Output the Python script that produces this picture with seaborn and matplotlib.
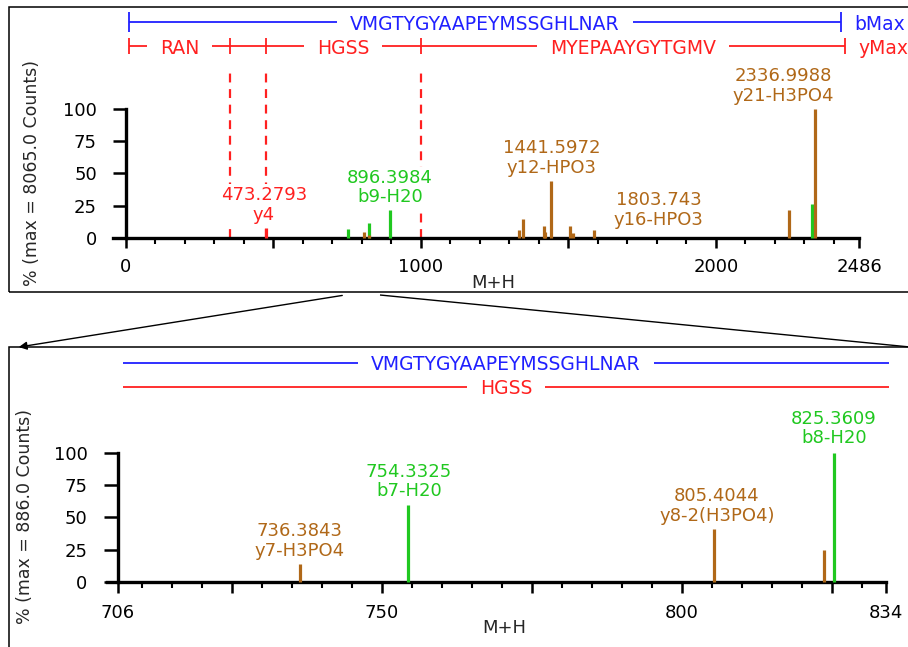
import matplotlib
matplotlib.use("Agg")
import matplotlib.pyplot as plt
import numpy as np
import pandas as pd
import seaborn as sns
from matplotlib.patches import Rectangle, FancyArrowPatch
from matplotlib.lines import Line2D
from matplotlib.ticker import FixedLocator, FixedFormatter

# ---------------- data ----------------
peptide = "VMGTYGYAAPEYMSSGHLNAR"

top_mz = [473.28, 754.33, 805.40, 823.70, 825.36, 896.40, 1333.0, 1347.0, 1417.0,
          1422.0, 1441.60, 1504.0, 1515.0, 1587.0, 2248.0, 2326.0, 2337.00]
top_pct = [8.0, 6.6, 4.4, 2.7, 11.5, 22.0, 6.0, 14.5, 9.5,
           5.0, 44.0, 9.0, 4.0, 6.5, 22.0, 26.0, 100.0]
top_type = ["y", "b-loss", "y-loss", "y-loss", "b-loss", "b-loss", "y-loss", "y-loss", "y-loss",
            "y-loss", "y-loss", "y-loss", "y-loss", "y-loss", "y-loss", "b-loss", "y-loss"]

top_lbl_mass = ["473.2793", "896.3984", "1441.5972", "1803.743", "2336.9988"]
top_lbl_ion = ["y4", "b9-H20", "y12-HPO3", "y16-HPO3", "y21-H3PO4"]
top_lbl_type = ["y", "b-loss", "y-loss", "y-loss", "y-loss"]

y_cleavages = [10.0, 352.5, 473.28, 1000.0, 2437.0]
y_fragments = ["RAN", "", "HGSS", "MYEPAAYGYTGMV"]
b_span = [10.0, 2424.0]

bot_mz = [736.3843, 754.3325, 805.4044, 823.70, 825.3609]
bot_pct = [14.0, 60.0, 41.0, 25.0, 100.0]
bot_type = ["y-loss", "b-loss", "y-loss", "y-loss", "b-loss"]
bot_lbl_mass = ["736.3843", "754.3325", "805.4044", "825.3609"]
bot_lbl_ion = ["y7-H3PO4", "b7-H20", "y8-2(H3PO4)", "b8-H20"]
bot_lbl_type = ["y-loss", "b-loss", "y-loss", "b-loss"]
bot_span = [706.8, 834.5]
bot_fragment = "HGSS"

top_max_counts = 8065.0
bot_max_counts = 886.0

# ---------------- layout ----------------
top_lbl_xy = [(468, 25.6), (895, 39.1), (1444, 62.0), (1807, 21.7), (2230, 117.8)]
bot_lbl_xy = [(736.3, 31.8), (754.5, 77.9), (805.8, 58.9), (825.3, 119.0)]

palette = {"y": "#ff2020", "b-loss": "#20c820", "y-loss": "#b06818"}
BLUE = "#2020ff"
RED = "#ff2020"

sns.set_theme(style="white")
plt.rcParams["font.family"] = ["DejaVu Sans"]
plt.rcParams["lines.solid_capstyle"] = "butt"

W, H = 908, 647
fig = plt.figure(figsize=(W / 100, H / 100), dpi=100)


def fx(px):
    return px / W


def fy(py):
    return 1 - py / H


def peaks_df(mz, pct, typ):
    rows = []
    for i, (m, p, t) in enumerate(zip(mz, pct, typ)):
        rows.append((i, m, 0.0, t))
        rows.append((i, m, p, t))
    return pd.DataFrame(rows, columns=["peak", "mz", "pct", "type"])


def style_axes(ax, x0, xbound, xmaj, xlabels, xminor, ylen, xmaj_len, xmin_len, xpad, ypad):
    ax.patch.set_alpha(0)
    for s in ["top", "right"]:
        ax.spines[s].set_visible(False)
    for s in ["left", "bottom"]:
        ax.spines[s].set_color("black")
        ax.spines[s].set_linewidth(2.4)
    ax.spines["left"].set_position(("data", x0))
    ax.spines["left"].set_bounds(0, 100)
    ax.spines["bottom"].set_position(("data", 0))
    ax.spines["bottom"].set_bounds(*xbound)
    ax.set_yticks([0, 25, 50, 75, 100])
    ax.set_yticklabels(["0", "25", "50", "75", "100"])
    ax.xaxis.set_major_locator(FixedLocator(xmaj))
    ax.xaxis.set_major_formatter(FixedFormatter(xlabels))
    ax.xaxis.set_minor_locator(FixedLocator(xminor))
    ax.tick_params(axis="y", direction="out", length=ylen, width=1.8, pad=ypad,
                   labelsize=13, colors="black", left=True)
    ax.tick_params(axis="x", which="major", direction="out", length=xmaj_len, width=1.8,
                   pad=xpad, labelsize=13, colors="black", bottom=True)
    ax.tick_params(axis="x", which="minor", direction="out", length=xmin_len, width=1.5,
                   colors="black", bottom=True)
    ax.set_xlabel("")
    ax.set_ylabel("")


def gapped_line(ax, xa, xb, y, label, color, fs, gap_px=13):
    if label:
        t = ax.text((xa + xb) / 2, y, label, color=color, fontsize=fs,
                    ha="center", va="center_baseline", zorder=5)
        fig.canvas.draw()
        bb = t.get_window_extent()
        inv = ax.transData.inverted()
        lx0 = inv.transform((bb.x0 - gap_px, 0))[0]
        lx1 = inv.transform((bb.x1 + gap_px, 0))[0]
        ax.plot([xa, lx0], [y, y], color=color, lw=1.3, solid_capstyle="butt")
        ax.plot([lx1, xb], [y, y], color=color, lw=1.3, solid_capstyle="butt")
    else:
        ax.plot([xa, xb], [y, y], color=color, lw=1.3, solid_capstyle="butt")


def peak_labels(ax, masses, ions, types, xy, fs=13):
    for m, ion, t, (x, y) in zip(masses, ions, types, xy):
        ax.text(x, y, f"{m}\n{ion}", color=palette[t], fontsize=fs, ha="center",
                va="center", multialignment="center", linespacing=1.1, zorder=6,
                bbox=dict(boxstyle="square,pad=0.1", fc="white", ec="none"))


# ================= top panel =================
ax1 = fig.add_axes([fx(100), fy(290), fx(900) - fx(100), (290 - 10) / H])
ax1.set_xlim(-88.1, 2624.4)
ax1.set_ylim(-40.3, 176.7)

# dashed cleavage markers
for c in y_cleavages[1:-1]:
    ax1.plot([c, c], [0, 132.6], color=RED, lw=1.6, ls=(0, (4, 3)), zorder=1)

sns.lineplot(data=peaks_df(top_mz, top_pct, top_type), x="mz", y="pct", units="peak",
             estimator=None, hue="type", palette=palette, linewidth=2.3, legend=False,
             ax=ax1, zorder=3)

style_axes(ax1, 0, (-44, 2486), [0, 500, 1000, 1500, 2000, 2486],
           ["0", "", "1000", "", "2000", "2486"],
           [v for v in range(100, 2500, 100) if v % 500],
           ylen=9.4, xmaj_len=7.2, xmin_len=4.3, xpad=7, ypad=11.5)

peak_labels(ax1, top_lbl_mass, top_lbl_ion, top_lbl_type, top_lbl_xy)

# sequence coverage lines
BY, RY = 167.4, 148.8
gapped_line(ax1, b_span[0], b_span[1], BY, peptide, BLUE, 13.5)
for xv in b_span:
    ax1.plot([xv, xv], [BY - 7.5, BY + 7.5], color=BLUE, lw=1.3)
for i, frag in enumerate(y_fragments):
    gapped_line(ax1, y_cleavages[i], y_cleavages[i + 1], RY, frag, RED, 13.5)
for xv in y_cleavages:
    ax1.plot([xv, xv], [RY - 6.5, RY + 6.5], color=RED, lw=1.3)
ax1.text(2468, BY, "bMax", color=BLUE, fontsize=13.5, ha="left", va="center_baseline",
         clip_on=False)
ax1.text(2485, RY, "yMax", color=RED, fontsize=13.5, ha="left", va="center_baseline",
         clip_on=False)

fig.text(fx(493), fy(283), "M+H", fontsize=13, ha="center", va="center")
fig.text(fx(32), fy(173), f"% (max = {top_max_counts:.1f} Counts)", fontsize=12.5,
         rotation=90, ha="center", va="center")

# ================= bottom panel =================
ax2 = fig.add_axes([fx(100), fy(640), fx(900) - fx(100), (640 - 350) / H])
ax2.set_xlim(703.0, 836.33)
ax2.set_ylim(-44.96, 179.8)

sns.lineplot(data=peaks_df(bot_mz, bot_pct, bot_type), x="mz", y="pct", units="peak",
             estimator=None, hue="type", palette=palette, linewidth=2.3, legend=False,
             ax=ax2, zorder=3)

style_axes(ax2, 706, (704.2, 834), [706, 725, 750, 775, 800, 825, 834],
           ["706", "", "750", "", "800", "", "834"],
           [v for v in range(710, 834, 5) if v % 25],
           ylen=10, xmaj_len=8, xmin_len=4.3, xpad=8, ypad=12)

peak_labels(ax2, bot_lbl_mass, bot_lbl_ion, bot_lbl_type, bot_lbl_xy)

gapped_line(ax2, bot_span[0], bot_span[1], 169.8, peptide, BLUE, 13.5)
gapped_line(ax2, bot_span[0], bot_span[1], 151.2, bot_fragment, RED, 13.5)

fig.text(fx(504), fy(628), "M+H", fontsize=13, ha="center", va="center")
fig.text(fx(25), fy(517), f"% (max = {bot_max_counts:.1f} Counts)", fontsize=12.5,
         rotation=90, ha="center", va="center")

# ================= frames and zoom arrows =================
fig.add_artist(Rectangle((fx(9), fy(292)), fx(930) - fx(9), (292 - 7) / H,
                         transform=fig.transFigure, fill=False, ec="black", lw=1.1))
fig.add_artist(Rectangle((fx(9), fy(670)), fx(930) - fx(9), (670 - 347) / H,
                         transform=fig.transFigure, fill=False, ec="black", lw=1.1))
fig.add_artist(FancyArrowPatch((fx(345), fy(295)), (fx(16), fy(347.5)),
                               transform=fig.transFigure, arrowstyle="-|>",
                               mutation_scale=12, color="black", lw=1.0))
fig.add_artist(Line2D([fx(380), fx(910)], [fy(295), fy(347)],
                      transform=fig.transFigure, color="black", lw=1.0))

fig.savefig("out.png", dpi=100)
